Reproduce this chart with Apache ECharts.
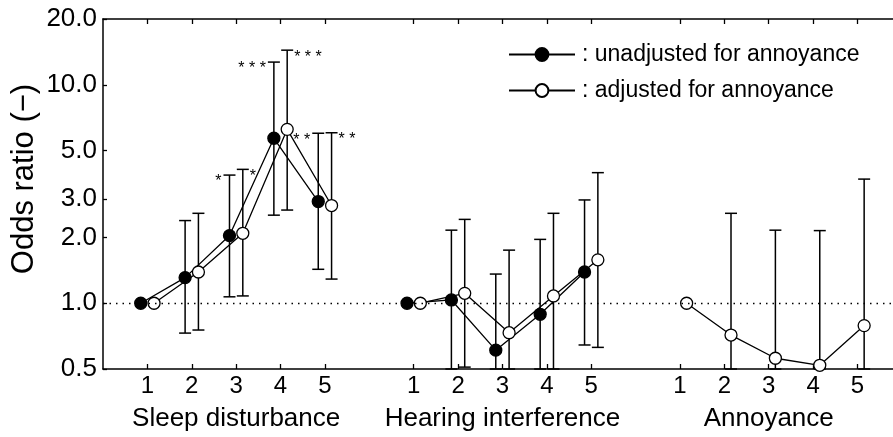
<!DOCTYPE html>
<html>
<head>
<meta charset="utf-8">
<script src="https://cdn.jsdelivr.net/npm/echarts@6/dist/echarts.min.js"></script>
<style>
  html, body { margin: 0; padding: 0; background: #fff; }
  #main { width: 893px; height: 437px; }
</style>
</head>
<body>
<div id="main"></div>
<script>
// levels within each group, and the group names under the axis
var levels = ['1', '2', '3', '4', '5'];
var groups = ['Sleep disturbance', 'Hearing interference', 'Annoyance'];
var yTicks = [0.5, 1, 2, 3, 5, 10, 20];
var legendNames = [': unadjusted for annoyance', ': adjusted for annoyance'];

// odds ratios (null = reference level, no error bar)
var unadjSleep     = [1.0, 1.31, 2.04, 5.69, 2.92];
var unadjSleepLow  = [null, 0.73, 1.07, 2.53, 1.43];
var unadjSleepHigh = [null, 2.39, 3.86, 12.7, 6.0];
var unadjSleepStars = ['', '', '*', '***', '**'];

var adjSleep     = [1.0, 1.39, 2.09, 6.25, 2.80];
var adjSleepLow  = [null, 0.754, 1.08, 2.67, 1.29];
var adjSleepHigh = [null, 2.58, 4.1, 14.4, 6.03];
var adjSleepStars = ['', '', '*', '***', '**'];

var unadjHearing     = [1.0, 1.035, 0.61, 0.89, 1.39];
var unadjHearingLow  = [null, 0.5, 0.5, 0.5, 0.644];
var unadjHearingHigh = [null, 2.16, 1.36, 1.96, 2.97];

var adjHearing     = [1.0, 1.11, 0.733, 1.08, 1.58];
var adjHearingLow  = [null, 0.51, 0.5, 0.5, 0.628];
var adjHearingHigh = [null, 2.42, 1.75, 2.58, 3.96];

var adjAnnoy     = [1.0, 0.715, 0.56, 0.52, 0.79];
var adjAnnoyLow  = [null, 0.5, 0.5, 0.5, 0.5];
var adjAnnoyHigh = [null, 2.58, 2.16, 2.15, 3.7];

var shift = 0.15;   // side offset of the two series around each tick
var font = 'Liberation Sans, Arial, Helvetica, sans-serif';

var xTickVals = [];
groups.forEach(function (g, gi) {
    levels.forEach(function (l, li) { xTickVals.push(gi * 6 + li + 1); });
});
var groupCenters = groups.map(function (g, gi) { return gi * 6 + 3; });

function points(group, vals, side) {
    return vals.map(function (v, i) { return [group * 6 + i + 1 + side, v]; });
}
function bars(group, low, high, stars, side) {
    var out = [];
    low.forEach(function (lo, i) {
        if (lo == null) return;
        out.push([group * 6 + i + 1 + side, lo, high[i], stars ? stars[i] : '', side]);
    });
    return out;
}

var barSets = {};
function renderBar(params, api) {
    var x = api.value(0);
    var lo = api.coord([x, api.value(1)]);
    var hi = api.coord([x, api.value(2)]);
    var side = api.value(4);
    var star = barSets[params.seriesName][params.dataIndex][3];
    var cw = 6;
    var style = { stroke: '#000', lineWidth: 1.5 };
    var children = [
        { type: 'line', shape: { x1: lo[0], y1: lo[1], x2: hi[0], y2: hi[1] }, style: style },
        { type: 'line', shape: { x1: hi[0] - cw, y1: hi[1], x2: hi[0] + cw, y2: hi[1] }, style: style },
        { type: 'line', shape: { x1: lo[0] - cw, y1: lo[1], x2: lo[0] + cw, y2: lo[1] }, style: style }
    ];
    if (star) {
        children.push({
            type: 'text',
            x: side < 0 ? hi[0] - cw - 2 : hi[0] + cw + 1,
            y: hi[1] - 1,
            style: {
                text: star.split('').join(' '), fill: '#000', font: '16px ' + font,
                align: side < 0 ? 'right' : 'left', verticalAlign: 'top'
            }
        });
    }
    return { type: 'group', children: children };
}

function lineSeries(name, data, filled) {
    return {
        name: name,
        type: 'line',
        data: data,
        symbol: 'circle',
        symbolSize: 12,
        z: 3,
        lineStyle: { color: '#000', width: 1.3 },
        itemStyle: { color: filled ? '#000' : '#fff', borderColor: '#000', borderWidth: 1.3 }
    };
}
function barSeries(id, data) {
    barSets[id] = data;
    return {
        name: id,
        type: 'custom',
        renderItem: renderBar,
        data: data,
        z: 2,
        encode: { x: 0, y: [1, 2] },
        silent: true
    };
}

var dom = document.getElementById('main');
var myChart = echarts.init(dom, null, { renderer: 'canvas' });
var option = {
    animation: false,
    backgroundColor: '#fff',
    textStyle: { fontFamily: font },
    grid: { left: 103, right: 0, top: 19, bottom: 68, containLabel: false, outerBoundsMode: 'none' },
    legend: {
        data: legendNames,
        orient: 'vertical',
        left: 503,
        top: 38,
        itemWidth: 66,
        itemHeight: 16,
        itemGap: 13,
        textStyle: { fontSize: 23, color: '#000', fontFamily: font, padding: [0, 0, 0, 2] }
    },
    xAxis: [
        {
            type: 'value', min: 0, max: 17.8, position: 'bottom',
            axisLine: { onZero: false, lineStyle: { color: '#000', width: 1.5 } },
            axisTick: { inside: true, length: 5, customValues: xTickVals, lineStyle: { color: '#000', width: 1.3 } },
            axisLabel: {
                customValues: xTickVals, color: '#000', fontSize: 24, margin: 5,
                formatter: function (v) { return levels[Math.round(v - 1) % 6]; }
            },
            splitLine: { show: false }
        },
        {
            type: 'value', min: 0, max: 17.8, position: 'bottom', offset: 29,
            axisLine: { show: false }, axisTick: { show: false },
            axisLabel: {
                customValues: groupCenters, color: '#000', fontSize: 26,
                formatter: function (v) { return groups[Math.round((v - 3) / 6)]; }
            },
            splitLine: { show: false }
        },
        {
            type: 'value', min: 0, max: 17.8, position: 'top',
            axisLine: { onZero: false, lineStyle: { color: '#000', width: 1.5 } },
            axisTick: { inside: true, length: 5, customValues: xTickVals, lineStyle: { color: '#000', width: 1.3 } },
            axisLabel: { show: false },
            splitLine: { show: false }
        }
    ],
    yAxis: {
        type: 'log', logBase: 10, min: 0.5, max: 20,
        name: 'Odds ratio (\u2212)', nameLocation: 'middle', nameGap: 63, nameMoveOverlap: false,
        nameTextStyle: { fontSize: 31, color: '#000', padding: [0, 0, 0, 30] },
        axisLine: { show: true, onZero: false, lineStyle: { color: '#000', width: 1.5 } },
        axisTick: { inside: true, length: 4, customValues: yTicks, lineStyle: { color: '#000', width: 1.3 } },
        axisLabel: {
            customValues: yTicks, color: '#000', fontSize: 26, margin: 6,
            formatter: function (v) { return Number(v).toFixed(1); }
        },
        splitLine: { show: false }
    },
    series: [
        barSeries('barUnadjSleep', bars(0, unadjSleepLow, unadjSleepHigh, unadjSleepStars, -shift)),
        barSeries('barAdjSleep', bars(0, adjSleepLow, adjSleepHigh, adjSleepStars, shift)),
        barSeries('barUnadjHearing', bars(1, unadjHearingLow, unadjHearingHigh, null, -shift)),
        barSeries('barAdjHearing', bars(1, adjHearingLow, adjHearingHigh, null, shift)),
        barSeries('barAdjAnnoy', bars(2, adjAnnoyLow, adjAnnoyHigh, null, shift)),
        lineSeries(legendNames[0], points(0, unadjSleep, -shift), true),
        lineSeries(legendNames[0], points(1, unadjHearing, -shift), true),
        lineSeries(legendNames[1], points(0, adjSleep, shift), false),
        lineSeries(legendNames[1], points(1, adjHearing, shift), false),
        lineSeries(legendNames[1], points(2, adjAnnoy, shift), false),
        {
            type: 'line', data: [], silent: true,
            markLine: {
                silent: true, symbol: 'none', label: { show: false },
                lineStyle: { color: '#000', width: 1.3, type: [1.5, 5] },
                data: [{ yAxis: 1 }]
            }
        }
    ]
};
myChart.setOption(option);
</script>
</body>
</html>
